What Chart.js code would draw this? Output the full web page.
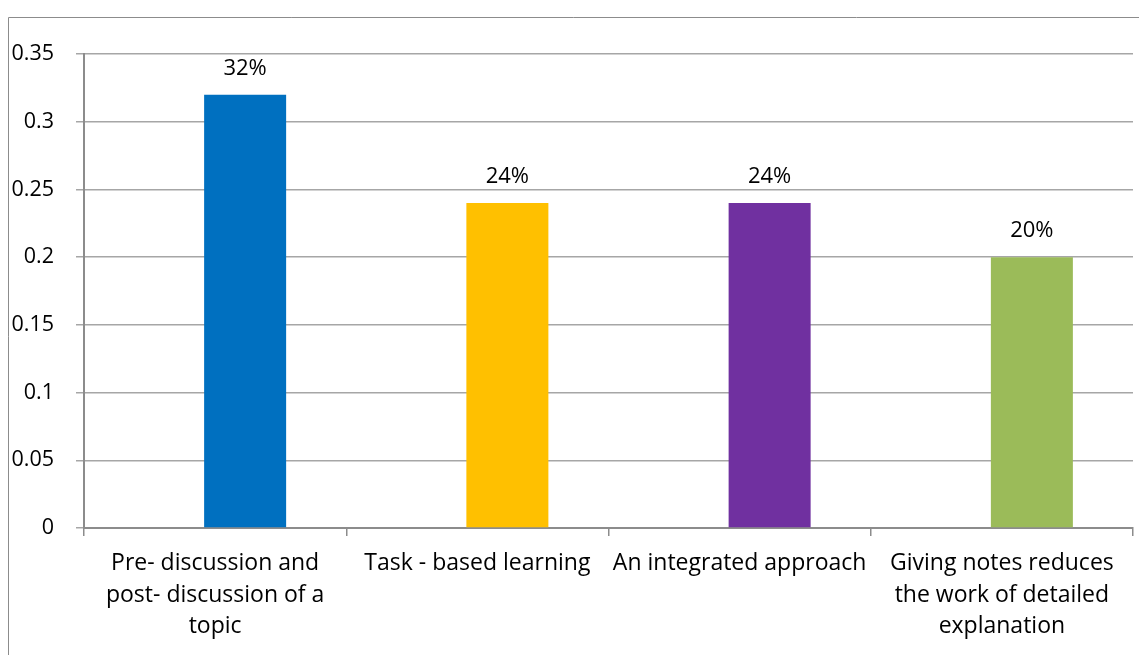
<!DOCTYPE html>
<html>
<head>
<meta charset="utf-8">
<script src="https://cdn.jsdelivr.net/npm/chart.js@4.4.1/dist/chart.umd.min.js"></script>
<style>
  html, body { margin: 0; padding: 0; background: #ffffff; }
  #wrap { width: 1139px; height: 655px; position: relative; }
</style>
</head>
<body>
<div id="wrap"><canvas id="c" width="1139" height="655"></canvas></div>
<script>
const categories = [
  ['Pre- discussion and', 'post- discussion of a', 'topic'],
  'Task - based learning',
  'An integrated approach',
  ['Giving notes reduces', 'the work of detailed', 'explanation']
];
const values = [0.32, 0.24, 0.24, 0.20];
const emptySeries = [null, null, null, null];
const barColors = ['#0070C0', '#FFC000', '#7030A0', '#9BBB59'];
const yTickLabels = ['0', '0.05', '0.1', '0.15', '0.2', '0.25', '0.3', '0.35'];

const FONT = '"Open Sans", Lato, sans-serif';

const framePlugin = {
  id: 'frame',
  beforeDraw(chart) {
    const ctx = chart.ctx;
    ctx.save();
    ctx.strokeStyle = '#8c8c8c';
    ctx.lineWidth = 1;
    ctx.beginPath();
    ctx.moveTo(8.5, 655);
    ctx.lineTo(8.5, 17.5);
    ctx.lineTo(1139, 17.5);
    ctx.stroke();
    ctx.restore();
  }
};

const labelPlugin = {
  id: 'valueLabels',
  afterDatasetsDraw(chart) {
    const ctx = chart.ctx;
    const meta = chart.getDatasetMeta(1);
    ctx.save();
    ctx.fillStyle = '#000000';
    ctx.font = '22px ' + FONT;
    ctx.textAlign = 'center';
    ctx.textBaseline = 'alphabetic';
    meta.data.forEach((bar, i) => {
      const v = chart.data.datasets[1].data[i];
      ctx.fillText(Math.round(v * 100) + '%', bar.x, bar.y - 20);
    });
    ctx.restore();
  }
};

new Chart(document.getElementById('c'), {
  type: 'bar',
  data: {
    labels: categories,
    datasets: [
      { data: emptySeries, backgroundColor: 'rgba(0,0,0,0)' },
      { data: values, backgroundColor: barColors }
    ]
  },
  options: {
    responsive: false,
    animation: false,
    devicePixelRatio: 1,
    categoryPercentage: 0.4576,
    barPercentage: 1.3667,
    layout: { padding: { top: 54, right: 6, left: 0, bottom: 0 } },
    plugins: {
      legend: { display: false },
      tooltip: { enabled: false }
    },
    scales: {
      x: {
        offset: true,
        grid: {
          display: true,
          drawOnChartArea: false,
          offset: true,
          tickLength: 8,
          color: '#8c8c8c',
          lineWidth: 1.5
        },
        border: { display: true, color: '#8c8c8c', width: 2 },
        ticks: {
          color: '#000000',
          font: { family: FONT, size: 23, lineHeight: '31.5px' },
          maxRotation: 0,
          minRotation: 0,
          autoSkip: false,
          padding: 12
        },
        afterFit(scale) { scale.height = 127; }
      },
      y: {
        min: 0,
        max: 0.35,
        ticks: {
          stepSize: 0.05,
          color: '#000000',
          font: { family: FONT, size: 21.5 },
          padding: 22,
          callback: (v, i) => yTickLabels[i]
        },
        grid: {
          color: '#a6a6a6',
          lineWidth: 1.5,
          tickLength: 8
        },
        border: { display: true, color: '#8c8c8c', width: 2 },
        afterFit(scale) { scale.width = 84; }
      }
    }
  },
  plugins: [framePlugin, labelPlugin]
});
</script>
</body>
</html>
